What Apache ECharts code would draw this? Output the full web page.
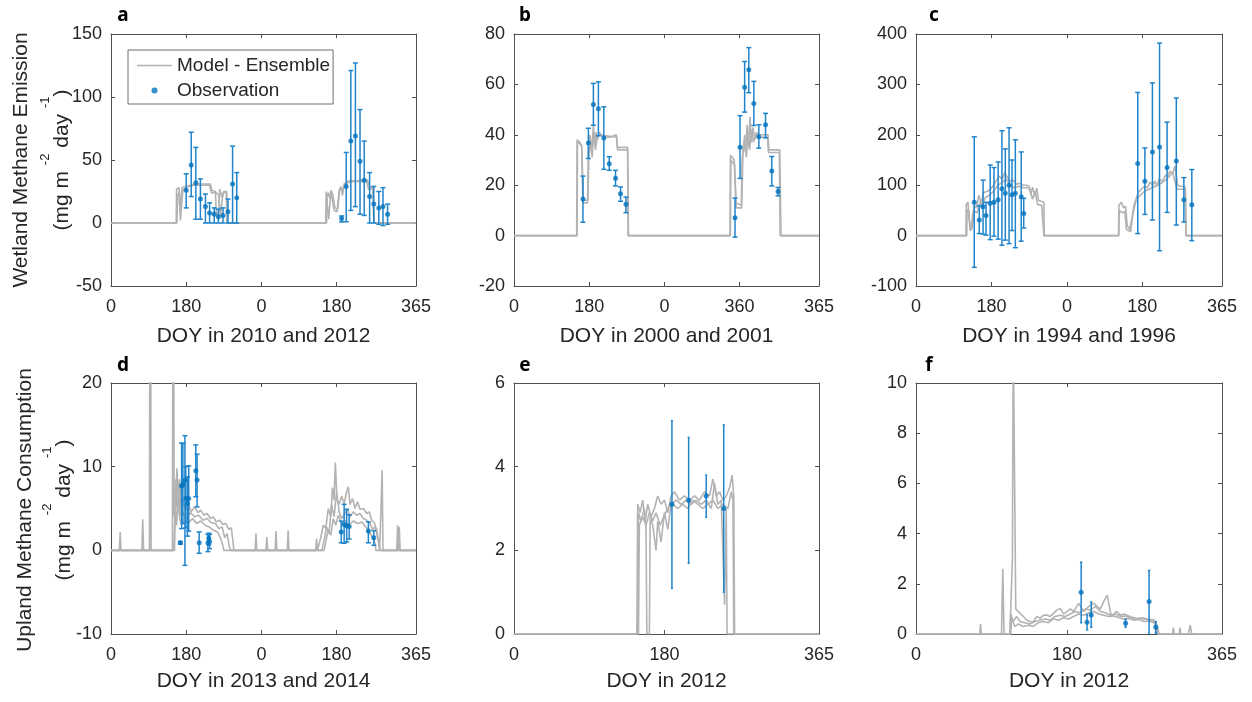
<!DOCTYPE html>
<html>
<head>
<meta charset="utf-8">
<script src="https://cdn.jsdelivr.net/npm/echarts@6/dist/echarts.min.js"></script>
<style>html,body{margin:0;padding:0;background:#fff;}#c{width:1252px;height:702px;}</style>
</head>
<body>
<div id="c"></div>
<script>
// ---------- tick positions & labels ----------
const xTicksTwoYear = [0, 180, 360, 540, 730];
const xTicksOneYear = [0, 180, 365];
const xLabelsA = ['0', '180', '0', '180', '365'];
const xLabelsB = ['0', '180', '0', '360', '365'];
const xLabelsOne = ['0', '180', '365'];

// ---------- observations: [day, value, lower, upper] ----------
const obsA = [[180,26,12,39],[192,46,21,72],[203,32,3,60],[214,19,3,35],[226,13,0,23],[236,8,0,16],[247,7,0,12],[257,5,0,11],[268,6,0,12],[280,9,0,19],[291,31,0,61],[301,20,0,40],
  [552,3.5,0.8,5.6],[563,29,1,56],[574,65,10,121],[585,69,13,127],[596,49,7,90],[606,34,6,65],[619,21,0,40],[629,15,0,29],[641,12,-1,25],[651,13,-2,28],[662,7,-1,15]];
const obsB = [[165,14.5,5.3,23.6],[178,36.7,30.6,42.6],[190,52,43.8,60.4],[202,50.3,39.6,61],[215,38.7,26.3,51.1],[228,28.5,25.9,31.3],[243,22.8,19.7,25.9],[255,16.6,13.6,19.3],[268,12.4,9.1,15.3],
  [529,7.1,-0.6,14.9],[541,35.1,22.7,47.6],[552,58.9,49,69.1],[562,65.8,56.7,74.6],[574,52.4,43.7,61.2],[586,39.2,34.7,44],[602,44,38.8,48.5],[617,25.6,19.7,31.4],[632,17.5,15.8,19.1]];
const obsC = [[139,66,-63,196],[151,31,4,59],[160,57,3,110],[167,40,1,66],[177,64,-8,140],[186,66,-1,135],[196,71,-7,146],[205,93,-19,208],[213,84,-9,172],[222,100,-16,214],[229,81,10,150],[237,84,-24,190],[251,77,-11,166],[257,44,15,74],
  [529,143,4,284],[546,108,42,174],[564,166,31,303],[581,176,-30,382],[599,135,46,225],[621,148,21,273],[639,71,27,115],[658,61,-10,131]];
const obsD = [[166,0.9,0.75,1.05],[169,7.7,2.6,12.8],[172,7.9,3.2,12.8],[177,8.4,-1.8,13.7],[179,6.2,2.7,10],[183,5.6,1.7,8.8],[186,6.2,2.3,10.1],[203,9.5,6.4,12.6],[206,8.4,5.2,11.5],[211,0.9,-0.35,2.2],[232,0.9,-0.15,1.9],[234,1.45,0.65,2.05],[236,1.05,0.2,1.9],
  [551,2.2,0.9,3.5],[558,3.1,0.85,5.5],[564,2.95,1,4.9],[570,2.85,1.35,4.25],[616,2.3,0.9,3.4],[629,1.5,0.6,2.35]];
const obsE = [[189,3.1,1.09,5.1],[209,3.2,1.69,4.7],[230,3.3,2.79,3.8],[251,3.0,1.0,5.0]];
const obsF = [[197,1.66,0.45,2.86],[204,0.47,0.17,0.76],[209,0.76,0.27,1.27],[250,0.43,0.27,0.59],[278,1.29,0,2.53],[286,0.27,0.03,0.49]];

// ---------- model ensemble members: [day, value] ----------
const modelA1 = [[0,0],[156,0],[157,27],[163,28],[165,10],[168,9],[170,28],[180,29],[190,30],[200,31],[215,31],[238,31],[241,26],[250,25],[252,7],[258,8],[260,27],[266,20],[270,25],[277,25],[278,0],
  [514,0],[515,25],[518,26],[521,3],[524,2],[526,25],[530,24],[534,10],[541,9],[546,25],[550,29],[554,22],[558,31],[566,33],[575,34],[583,33],[600,34],[614,34],[618,29],[626,28],[630,0],[730,0]];
const modelA2 = [[0,0],[158,0],[159,22],[163,24],[166,2],[170,1],[172,26],[185,29],[200,30],[236,30],[240,24],[252,24],[258,22],[262,5],[268,24],[276,24],[277,0],
  [516,0],[517,22],[520,24],[523,20],[527,26],[531,22],[536,12],[543,11],[547,27],[552,26],[558,29],[566,32],[580,33],[600,33],[612,33],[616,27],[627,27],[629,0],[730,0]];
const modelB1 = [[0,0],[150,0],[151,38],[158,37],[162,35],[165,13],[176,13],[178,35],[182,40],[186,33],[190,44],[193,36],[196,41],[200,38],[204,41],[214,39],[230,39],[245,40],[247,35],[272,35],[274,0],
  [517,0],[518,32],[527,30],[531,13],[544,12],[546,30],[550,37],[554,33],[558,44],[561,35],[565,47],[568,37],[572,43],[576,38],[580,41],[585,40],[608,40],[610,34],[636,34],[639,0],[730,0]];
const modelB2 = [[0,0],[151,0],[152,37],[162,36],[166,14],[177,14],[179,30],[183,38],[187,31],[191,41],[195,34],[199,39],[205,40],[246,39],[248,34],[272,34],[273,0],
  [518,0],[519,30],[528,28],[532,11],[545,11],[548,33],[552,40],[556,31],[560,40],[564,34],[568,42],[573,37],[578,40],[585,39],[607,39],[609,33],[635,33],[637,0],[730,0]];
const modelC1 = [[0,0],[119,0],[120,62],[124,66],[127,30],[131,12],[135,40],[139,60],[144,55],[150,80],[156,60],[160,85],[170,88],[178,92],[185,100],[192,110],[198,118],[205,112],[212,125],[218,115],[225,108],[232,110],[240,102],[248,104],[256,100],[264,100],[270,98],[274,82],[278,96],[284,78],[288,94],[292,70],[298,68],[305,66],[306,0],
  [483,0],[484,60],[490,66],[495,55],[500,58],[504,20],[510,12],[515,35],[520,60],[530,85],[535,90],[545,98],[552,95],[558,106],[565,100],[570,108],[575,98],[580,112],[588,108],[595,120],[600,117],[606,128],[612,122],[618,138],[624,100],[630,98],[642,97],[644,0],[730,0]];
const modelC2 = [[0,0],[121,0],[122,52],[126,48],[129,10],[134,14],[138,50],[146,45],[152,65],[158,55],[165,75],[175,80],[185,88],[195,100],[205,105],[215,112],[225,100],[235,95],[245,98],[256,95],[266,95],[272,90],[278,72],[284,88],[290,62],[300,60],[304,58],[305,0],
  [484,0],[485,50],[492,45],[498,48],[502,12],[512,8],[518,45],[525,70],[535,80],[545,88],[555,92],[565,95],[575,100],[585,104],[595,110],[605,118],[612,126],[617,110],[623,92],[635,92],[643,92],[644,0],[730,0]];
const modelD1 = [[0,0],[20,0],[22,2.2],[24,0],[74,0],[76,3.7],[78,0],[92,0],[94,60],[96,0],[147,0],[149,60],[151,4],[155,7],[158,9.8],[161,6],[164,8.5],[168,5],[172,6],[178,4.8],[185,5.5],[192,4.6],[200,5.2],[208,4.5],[215,4.8],[222,4.2],[230,4.4],[238,3.8],[245,4],[252,3.4],[260,3.6],[268,3.1],[275,3.2],[282,2.5],[288,2.7],[292,1],[294,0],
  [345,0],[347,2],[349,0],[371,0],[373,1.6],[375,0],[393,0],[395,2.3],[397,0],[422,0],[424,2.4],[426,0],[490,0],[492,1.4],[494,0],[498,0],[502,1.5],[508,3],[514,2.6],[520,5],[526,4],[530,7.5],[534,6],[537,10.5],[541,6],[546,5.5],[552,6.5],[558,5.5],[563,6.8],[568,7.6],[572,5.5],[578,6.2],[584,5],[590,5.8],[596,4.9],[604,5],[612,4.4],[618,4.6],[624,3.6],[630,3.3],[636,2.5],[640,1.2],[643,0],[647,0],[649,9.6],[651,0],[684,0],[686,3],[688,0],[690,2.8],[692,0],[730,0]];
const modelD2 = [[0,0],[150,0],[152,3],[155,8.5],[158,5],[162,7],[166,4.2],[172,4.5],[180,3.8],[190,4.5],[200,4],[210,4.2],[220,3.6],[230,3.8],[240,3.3],[250,3.2],[258,2.6],[266,2.8],[272,1.5],[278,2],[283,0.5],[286,0],
  [505,0],[510,1.2],[516,2.8],[522,2],[528,5.5],[534,4],[540,7],[546,4.6],[552,3.8],[560,4.4],[566,5],[572,4],[580,4.6],[588,4.2],[596,4.4],[604,3.8],[612,3.6],[620,3.2],[626,2.5],[632,2.8],[638,1.6],[642,0.5],[644,0],[730,0]];
const modelD3 = [[0,0],[152,0],[154,5],[157,3],[160,6],[165,3.6],[170,3.2],[178,3.5],[186,3.3],[195,3.8],[205,3.2],[215,3.5],[225,3],[235,2.8],[245,2.4],[255,2.2],[262,1.5],[268,0.5],[270,0],
  [510,0],[514,1],[520,2.5],[526,1.8],[532,3.8],[538,3],[544,4.2],[552,3.2],[560,3.6],[570,3],[580,3.5],[590,3.2],[600,3.4],[610,2.8],[618,2.2],[626,1.6],[632,0.8],[634,0],[730,0]];
const modelE1 = [[0,0],[147,0],[148,3.1],[151,2.9],[154,3.2],[157,2.7],[160,3.1],[164,2.8],[168,3.0],[172,3.3],[176,3.1],[180,3.2],[184,2.9],[188,3.3],[192,3.4],[198,3.2],[204,3.3],[210,3.2],[216,3.3],[222,3.2],[228,3.4],[234,3.3],[238,3.7],[242,3.3],[246,3.4],[250,3.2],[254,3.3],[258,3.5],[261,3.8],[263,3.3],[264,0],[365,0]];
const modelE2 = [[0,0],[148,0],[149,2.9],[152,2.7],[156,3.0],[158,2.5],[159,0],[162,0],[163,2.8],[166,2.6],[170,2.0],[172,2.7],[176,2.2],[180,2.9],[184,2.5],[188,3.1],[194,3.2],[200,3.1],[206,3.2],[212,3.1],[218,3.2],[224,3.1],[230,3.2],[236,3.0],[240,3.6],[244,3.1],[248,3.2],[252,0.7],[254,3.0],[255,0],[365,0]];
const modelE3 = [[0,0],[149,0],[150,2.6],[154,2.8],[158,2.6],[162,2.9],[166,2.7],[170,2.9],[175,2.6],[179,2.8],[184,3.0],[190,3.1],[196,3.0],[202,3.1],[208,3.0],[214,3.2],[220,3.1],[226,3.0],[232,3.1],[238,3.2],[244,3.0],[250,3.1],[256,3.0],[260,3.4],[262,3.2],[263,0],[365,0]];
const modelF1 = [[0,0],[76,0],[77,0.4],[78,0],[102,0],[103.5,2.6],[105,0],[112,0],[113,1.0],[115,3.0],[116,12],[118,12],[119,1.0],[124,0.82],[128,0.7],[132,0.56],[136,0.5],[140,0.49],[144,0.7],[148,0.62],[152,0.75],[156,0.76],[160,0.7],[164,0.82],[168,0.95],[172,1.02],[176,0.8],[180,0.89],[184,1.0],[188,0.9],[194,1.22],[200,0.9],[206,1.09],[212,1.22],[216,1.1],[220,1.0],[224,1.3],[228,1.55],[233,0.69],[239,0.9],[244,0.75],[248,0.8],[256,0.69],[264,0.62],[270,0.65],[276,0.6],[284,0.56],[288,0.3],[290,0],[306,0],[307,0.25],[308,0],[314,0],[315,0.25],[316,0],[325,0],[327,0.35],[329,0],[365,0]];
const modelF2 = [[0,0],[112,0],[113,0.8],[116,0.5],[120,0.7],[124,0.5],[130,0.45],[136,0.4],[142,0.5],[148,0.55],[154,0.6],[160,0.55],[166,0.7],[172,0.75],[178,0.7],[184,0.8],[190,0.9],[196,0.85],[202,1.0],[208,0.95],[214,1.1],[220,0.9],[226,0.85],[232,0.75],[238,0.8],[244,0.7],[250,0.72],[256,0.65],[262,0.6],[268,0.62],[274,0.58],[280,0.55],[286,0.45],[288,0],[365,0]];
const modelF3 = [[0,0],[113,0],[114,0.6],[118,0.3],[122,0.4],[128,0.3],[134,0.35],[140,0.3],[146,0.45],[152,0.5],[158,0.45],[164,0.6],[170,0.55],[176,0.65],[182,0.6],[188,0.7],[194,0.8],[200,0.75],[206,0.85],[212,0.9],[218,0.8],[224,0.75],[230,0.7],[236,0.72],[242,0.65],[248,0.6],[254,0.62],[260,0.55],[266,0.58],[272,0.5],[278,0.52],[284,0.45],[287,0.2],[289,0],[365,0]];

const xNames = ['DOY in 2010 and 2012', 'DOY in 2000 and 2001', 'DOY in 1994 and 1996', 'DOY in 2013 and 2014', 'DOY in 2012', 'DOY in 2012'];
const panelLetters = ['a', 'b', 'c', 'd', 'e', 'f'];

// ---------- layout / styles ----------
const FONT = "'Liberation Sans', Arial, Helvetica, sans-serif";
const AXIS_COLOR = '#505050';
const TEXT_COLOR = '#262626';
const MODEL_COLOR = '#b3b3b3';
const OBS_COLOR = '#0072bd';
const BAR_COLOR = '#1f84cc';

const panels = [
  {grid:{left:111,top:34,width:305,height:252}, xMax:730, xTicks:xTicksTwoYear, xLabels:xLabelsA, yMin:-50, yMax:150, yInt:50, models:[modelA1, modelA2], obs:obsA, cap:2.5, nameGap:40, letterPos:[123,16]},
  {grid:{left:514,top:34,width:305,height:252}, xMax:730, xTicks:xTicksTwoYear, xLabels:xLabelsB, yMin:-20, yMax:80, yInt:20, models:[modelB1, modelB2], obs:obsB, cap:2.5, nameGap:40, letterPos:[525,16]},
  {grid:{left:916,top:34,width:306,height:252}, xMax:730, xTicks:xTicksTwoYear, xLabels:xLabelsA, yMin:-100, yMax:400, yInt:100, models:[modelC1, modelC2], obs:obsC, cap:2.5, nameGap:40, letterPos:[934,16]},
  {grid:{left:111,top:383,width:305,height:251}, xMax:730, xTicks:xTicksTwoYear, xLabels:xLabelsA, yMin:-10, yMax:20, yInt:10, models:[modelD1, modelD2, modelD3], obs:obsD, cap:2.5, nameGap:37, letterPos:[123,366]},
  {grid:{left:514,top:383,width:305,height:251}, xMax:365, xTicks:xTicksOneYear, xLabels:xLabelsOne, yMin:0, yMax:6, yInt:2, models:[modelE1, modelE2, modelE3], obs:obsE, cap:1, nameGap:37, letterPos:[525,366]},
  {grid:{left:916,top:383,width:306,height:251}, xMax:365, xTicks:xTicksOneYear, xLabels:xLabelsOne, yMin:0, yMax:10, yInt:2, models:[modelF1, modelF2, modelF3], obs:obsF, cap:1.2, nameGap:37, letterPos:[929,366]}
];

const grids = [], xAxes = [], yAxes = [], series = [], graphics = [];
const lineStyle = {color: AXIS_COLOR, width: 1};

panels.forEach((p, i) => {
  grids.push(Object.assign({containLabel:false}, p.grid));
  const labelFor = v => { let k = 0, d = Infinity; p.xTicks.forEach((t, j) => { if (Math.abs(t - v) < d) { d = Math.abs(t - v); k = j; } }); return p.xLabels[k]; };
  xAxes.push({gridIndex:i, type:'value', position:'bottom', min:0, max:p.xMax,
    axisLine:{show:true, onZero:false, lineStyle},
    axisTick:{show:true, inside:true, length:4, customValues:p.xTicks, lineStyle},
    axisLabel:{show:true, customValues:p.xTicks, formatter:labelFor, margin:12, color:TEXT_COLOR, fontSize:18, fontFamily:FONT, showMinLabel:true, showMaxLabel:true},
    splitLine:{show:false},
    name:xNames[i], nameLocation:'middle', nameGap:p.nameGap, nameTextStyle:{color:TEXT_COLOR, fontSize:21, fontFamily:FONT}});
  xAxes.push({gridIndex:i, type:'value', position:'top', min:0, max:p.xMax,
    axisLine:{show:true, onZero:false, lineStyle},
    axisTick:{show:true, inside:true, length:4, customValues:p.xTicks, lineStyle},
    axisLabel:{show:false}, splitLine:{show:false}});
  yAxes.push({gridIndex:i, type:'value', position:'left', min:p.yMin, max:p.yMax, interval:p.yInt,
    axisLine:{show:true, onZero:false, lineStyle},
    axisTick:{show:true, inside:true, length:4, lineStyle},
    axisLabel:{margin:9, color:TEXT_COLOR, fontSize:18, fontFamily:FONT},
    splitLine:{show:false}});
  yAxes.push({gridIndex:i, type:'value', position:'right', min:p.yMin, max:p.yMax, interval:p.yInt,
    axisLine:{show:true, onZero:false, lineStyle},
    axisTick:{show:true, inside:true, length:4, lineStyle},
    axisLabel:{show:false}, splitLine:{show:false}});

  p.models.forEach(m => {
    series.push({type:'line', name:'Model - Ensemble', xAxisIndex:2*i, yAxisIndex:2*i, data:m,
      symbol:'none', showSymbol:false, clip:true, silent:true, animation:false, z:2,
      lineStyle:{color:MODEL_COLOR, width:1.6}, itemStyle:{color:MODEL_COLOR}});
  });
  const cap = p.cap;
  series.push({type:'custom', name:'Observation error', xAxisIndex:2*i, yAxisIndex:2*i, data:p.obs,
    encode:{x:0, y:[1,2,3]}, clip:true, silent:true, animation:false, z:3,
    renderItem:(params, api) => {
      const x = api.value(0);
      const a = api.coord([x, api.value(2)]);
      const b = api.coord([x, api.value(3)]);
      const st = {stroke:BAR_COLOR, lineWidth:1.5};
      return {type:'group', children:[
        {type:'line', shape:{x1:a[0], y1:a[1], x2:b[0], y2:b[1]}, style:st},
        {type:'line', shape:{x1:a[0]-cap, y1:a[1], x2:a[0]+cap, y2:a[1]}, style:st},
        {type:'line', shape:{x1:b[0]-cap, y1:b[1], x2:b[0]+cap, y2:b[1]}, style:st}
      ]};
    }});
  series.push({type:'scatter', name:'Observation', xAxisIndex:2*i, yAxisIndex:2*i,
    data:p.obs.map(o => [o[0], o[1]]), symbol:'circle', symbolSize:5, silent:true, animation:false, z:4,
    itemStyle:{color:OBS_COLOR}});

  graphics.push({type:'text', x:p.letterPos[0], y:p.letterPos[1], style:{text:panelLetters[i], fill:'#000', fontSize:19, fontWeight:'bold', fontFamily:"'Noto Sans', 'Open Sans', sans-serif", align:'center', verticalAlign:'middle'}});
});

// y axis titles (two lines, with superscripts)
const unitRich = {
  n:{fontSize:21, fontFamily:FONT, fill:TEXT_COLOR, lineHeight:34, verticalAlign:'bottom'},
  s:{fontSize:13, fontFamily:FONT, fill:TEXT_COLOR, lineHeight:14, verticalAlign:'top'}
};
const unitText = '{n|(mg m }{s|-2}{n| day }{s|-1}{n|)}';
graphics.push({type:'text', x:21.5, y:160, rotation:Math.PI/2, style:{text:'Wetland Methane Emission', fill:TEXT_COLOR, fontSize:21, fontFamily:FONT, align:'center', verticalAlign:'middle'}});
graphics.push({type:'text', x:56, y:160, rotation:Math.PI/2, style:{text:unitText, rich:unitRich, align:'center', verticalAlign:'middle'}});
graphics.push({type:'text', x:25, y:510, rotation:Math.PI/2, style:{text:'Upland Methane Consumption', fill:TEXT_COLOR, fontSize:21, fontFamily:FONT, align:'center', verticalAlign:'middle'}});
graphics.push({type:'text', x:58, y:510, rotation:Math.PI/2, style:{text:unitText, rich:unitRich, align:'center', verticalAlign:'middle'}});

const chart = echarts.init(document.getElementById('c'), null, {renderer:'canvas'});
chart.setOption({
  animation:false,
  backgroundColor:'#ffffff',
  grid:grids, xAxis:xAxes, yAxis:yAxes, series:series, graphic:graphics,
  legend:{data:[{name:'Model - Ensemble', icon:'path://M0,0L35,0L35,1.6L0,1.6Z'}, {name:'Observation', icon:'circle'}],
    orient:'vertical', left:128, top:50, symbolKeepAspect:true,
    itemWidth:35, itemHeight:6, itemGap:6, padding:[6, 3, 4, 9],
    borderColor:'#6e6e6e', borderWidth:1, backgroundColor:'#fff',
    textStyle:{color:TEXT_COLOR, fontSize:19, fontFamily:FONT}, selectedMode:false}
});
</script>
</body>
</html>
